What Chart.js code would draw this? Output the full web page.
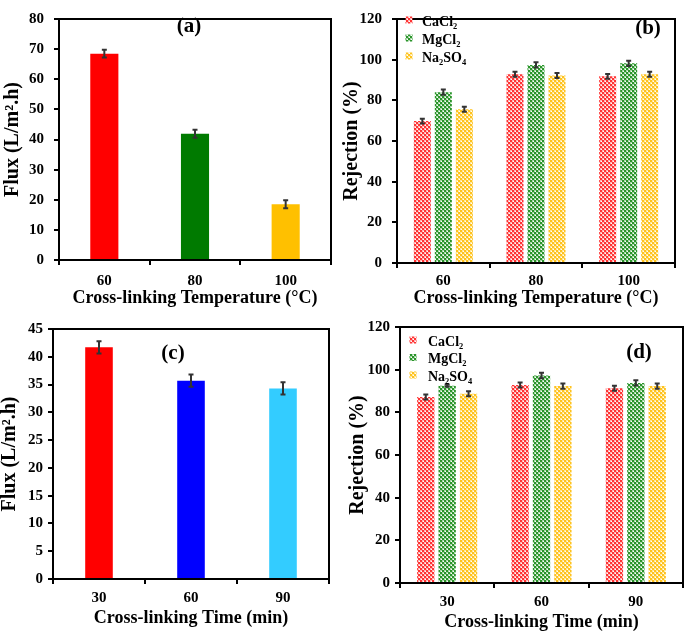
<!DOCTYPE html>
<html>
<head>
<meta charset="utf-8">
<script src="https://cdn.jsdelivr.net/npm/chart.js@4.4.0/dist/chart.umd.min.js"></script>
<style>
  html, body { margin: 0; padding: 0; background: #fff; }
  .panel { position: absolute; }
</style>
</head>
<body>
<div class="panel" style="left:0;top:0;width:342px;height:310px"><canvas id="chart-a"></canvas></div>
<div class="panel" style="left:342px;top:0;width:343px;height:310px"><canvas id="chart-b"></canvas></div>
<div class="panel" style="left:0;top:310px;width:342px;height:322px"><canvas id="chart-c"></canvas></div>
<div class="panel" style="left:342px;top:310px;width:343px;height:322px"><canvas id="chart-d"></canvas></div>
<script>
// categories
var tempLabels = ['60', '80', '100'];
var timeLabels = ['30', '60', '90'];
var saltNames = ['CaCl₂', 'MgCl₂', 'Na₂SO₄'];

// (a) flux vs temperature
var fluxTemp = [68.5, 41.9, 18.5];
var fluxTempErr = [1.3, 1.3, 1.3];

// (c) flux vs time
var fluxTime = [41.7, 35.7, 34.3];
var fluxTimeErr = [1.1, 1.1, 1.1];

// (b) rejection vs temperature
var rejTempCaCl2 = [69.8, 92.8, 91.8];
var rejTempMgCl2 = [84.0, 97.4, 98.2];
var rejTempNa2SO4 = [75.6, 92.2, 92.8];
var rejTempCaCl2Err = [1.2, 1.2, 1.2];
var rejTempMgCl2Err = [1.3, 1.3, 1.3];
var rejTempNa2SO4Err = [1.2, 1.2, 1.2];

// (d) rejection vs time
var rejTimeCaCl2 = [87.2, 92.8, 91.3];
var rejTimeMgCl2 = [92.5, 97.3, 93.8];
var rejTimeNa2SO4 = [88.7, 92.3, 92.3];
var rejTimeCaCl2Err = [1.2, 1.2, 1.2];
var rejTimeMgCl2Err = [0.5, 1.3, 1.2];
var rejTimeNa2SO4Err = [1.2, 1.2, 1.2];

var serif = "'Liberation Serif', 'Times New Roman', serif";
Chart.defaults.font.family = serif;
Chart.defaults.font.weight = 'bold';
Chart.defaults.color = '#000';

// checker fill with small light dots, like the hatched bars
function dotPattern(color, tint) {
	var c = document.createElement('canvas');
	c.width = 4; c.height = 4;
	var g = c.getContext('2d');
	g.fillStyle = tint; g.fillRect(0, 0, 4, 4);
	g.fillStyle = color;
	g.fillRect(0, 0, 2, 2);
	g.fillRect(2, 2, 2, 2);
	g.fillStyle = '#ffffff';
	g.fillRect(3, 1, 1, 1);
	g.fillRect(1, 3, 1, 1);
	return g.createPattern(c, 'repeat');
}

var redDots = dotPattern('#ff3333', '#ffb4b4');
var greenDots = dotPattern('#2a942a', '#a8d6a8');
var yellowDots = dotPattern('#ffc21e', '#ffe79a');

// error bars, frame, panel tag and legend
var framePlugin = {
	id: 'frame',
	afterDatasetsDraw: function(chart, args, opts) {
		var ctx = chart.ctx, a = chart.chartArea, ys = chart.scales.y;
		chart.data.datasets.forEach(function(ds, i) {
			if (!ds.errors) return;
			chart.getDatasetMeta(i).data.forEach(function(bar, j) {
				var top = ys.getPixelForValue(ds.data[j] + ds.errors[j]);
				var bot = ys.getPixelForValue(ds.data[j] - ds.errors[j]);
				ctx.save();
				ctx.strokeStyle = '#333';
				ctx.lineWidth = 2;
				ctx.beginPath();
				ctx.moveTo(bar.x, top); ctx.lineTo(bar.x, bot);
				ctx.moveTo(bar.x - 2.5, top); ctx.lineTo(bar.x + 2.5, top);
				ctx.moveTo(bar.x - 2.5, bot); ctx.lineTo(bar.x + 2.5, bot);
				ctx.stroke();
				ctx.restore();
			});
		});

		ctx.save();
		ctx.strokeStyle = '#000';
		ctx.lineWidth = 2;
		ctx.strokeRect(a.left, a.top, a.right - a.left, a.bottom - a.top);

		ctx.fillStyle = '#000';
		ctx.font = 'bold 21px ' + serif;
		ctx.textAlign = 'center';
		ctx.textBaseline = 'middle';
		ctx.fillText(opts.tag, opts.tagX, opts.tagY);

		if (opts.legend) {
			var L = opts.legend;
			ctx.font = 'bold 14px ' + serif;
			ctx.textAlign = 'left';
			chart.data.datasets.forEach(function(ds, i) {
				var y = L.y + i * L.step;
				ctx.fillStyle = ds.backgroundColor;
				ctx.fillRect(L.markX - 3.5, y - 5.5, 7, 7);
				ctx.fillStyle = '#000';
				ctx.fillText(ds.label, L.textX, y);
			});
		}
		ctx.restore();
	}
};

function makeScales(s) {
	return {
		x: {
			grid: { display: true, drawOnChartArea: false, drawTicks: true, tickLength: 5, color: '#000', lineWidth: 2 },
			border: { display: false },
			ticks: { font: { size: 15 }, padding: s.xPad },
			title: { display: true, text: s.xTitle, font: { size: 18, lineHeight: 1 }, padding: { top: 0, bottom: s.xTitlePad } },
			afterFit: function(scale) { scale.height = s.xHeight; }
		},
		y: {
			min: 0, max: s.yMax,
			grid: { display: true, drawOnChartArea: false, drawTicks: true, tickLength: 5, color: '#000', lineWidth: 2 },
			border: { display: false },
			ticks: { stepSize: s.yStep, font: { size: 15 }, padding: s.yPad },
			title: { display: true, text: s.yTitle, font: { size: 20, lineHeight: 1 }, padding: { top: s.yTitlePad, bottom: 0 } },
			afterFit: function(scale) { scale.width = s.yWidth; }
		}
	};
}

function makeChart(id, labels, datasets, scales, layout, frame, barPct, catPct) {
	return new Chart(document.getElementById(id), {
		type: 'bar',
		data: { labels: labels, datasets: datasets },
		options: {
			responsive: true,
			maintainAspectRatio: false,
			animation: false,
			layout: { padding: layout },
			datasets: { bar: { barPercentage: barPct, categoryPercentage: catPct, borderWidth: 0 } },
			scales: scales,
			plugins: {
				legend: { display: false },
				tooltip: { enabled: false },
				frame: frame
			}
		},
		plugins: [framePlugin]
	});
}

makeChart('chart-a', tempLabels,
	[{ label: 'Flux', data: fluxTemp, errors: fluxTempErr, backgroundColor: ['#ff0000', '#007a00', '#ffc000'] }],
	makeScales({ yMax: 80, yStep: 10, yTitle: 'Flux (L/m².h)', xTitle: 'Cross-linking Temperature (°C)',
		yWidth: 59, xHeight: 50, xPad: 6.7, yPad: 10, xTitlePad: 3, yTitlePad: 3 }),
	{ top: 6, right: 11, left: 0, bottom: 0 },
	{ tag: '(a)', tagX: 189, tagY: 27 }, 0.31, 1);

makeChart('chart-b', tempLabels,
	[
		{ label: saltNames[0], data: rejTempCaCl2, errors: rejTempCaCl2Err, backgroundColor: redDots },
		{ label: saltNames[1], data: rejTempMgCl2, errors: rejTempMgCl2Err, backgroundColor: greenDots },
		{ label: saltNames[2], data: rejTempNa2SO4, errors: rejTempNa2SO4Err, backgroundColor: yellowDots }
	],
	makeScales({ yMax: 120, yStep: 20, yTitle: 'Rejection (%)', xTitle: 'Cross-linking Temperature (°C)',
		yWidth: 55, xHeight: 47, xPad: 3.7, yPad: 10, xTitlePad: 3, yTitlePad: 0 }),
	{ top: 7, right: 10, left: 0, bottom: 0 },
	{ tag: '(b)', tagX: 306, tagY: 29, legend: { markX: 67, textX: 80, y: 22, step: 18 } }, 0.81, 0.68);

makeChart('chart-c', timeLabels,
	[{ label: 'Flux', data: fluxTime, errors: fluxTimeErr, backgroundColor: ['#ff0000', '#0000ff', '#33ccff'] }],
	makeScales({ yMax: 45, yStep: 5, yTitle: 'Flux (L/m².h)', xTitle: 'Cross-linking Time (min)',
		yWidth: 53, xHeight: 53, xPad: 4.7, yPad: 5, xTitlePad: 5, yTitlePad: 0 }),
	{ top: 19, right: 13, left: 0, bottom: 0 },
	{ tag: '(c)', tagX: 173, tagY: 44 }, 0.30, 1);

makeChart('chart-d', timeLabels,
	[
		{ label: saltNames[0], data: rejTimeCaCl2, errors: rejTimeCaCl2Err, backgroundColor: redDots },
		{ label: saltNames[1], data: rejTimeMgCl2, errors: rejTimeMgCl2Err, backgroundColor: greenDots },
		{ label: saltNames[2], data: rejTimeNa2SO4, errors: rejTimeNa2SO4Err, backgroundColor: yellowDots }
	],
	makeScales({ yMax: 120, yStep: 20, yTitle: 'Rejection (%)', xTitle: 'Cross-linking Time (min)',
		yWidth: 58, xHeight: 49, xPad: 5, yPad: 5, xTitlePad: 1, yTitlePad: 6 }),
	{ top: 17, right: 2, left: 0, bottom: 0 },
	{ tag: '(d)', tagX: 297, tagY: 43, legend: { markX: 71, textX: 86, y: 32, step: 17.5 } }, 0.81, 0.68);
</script>
</body>
</html>
